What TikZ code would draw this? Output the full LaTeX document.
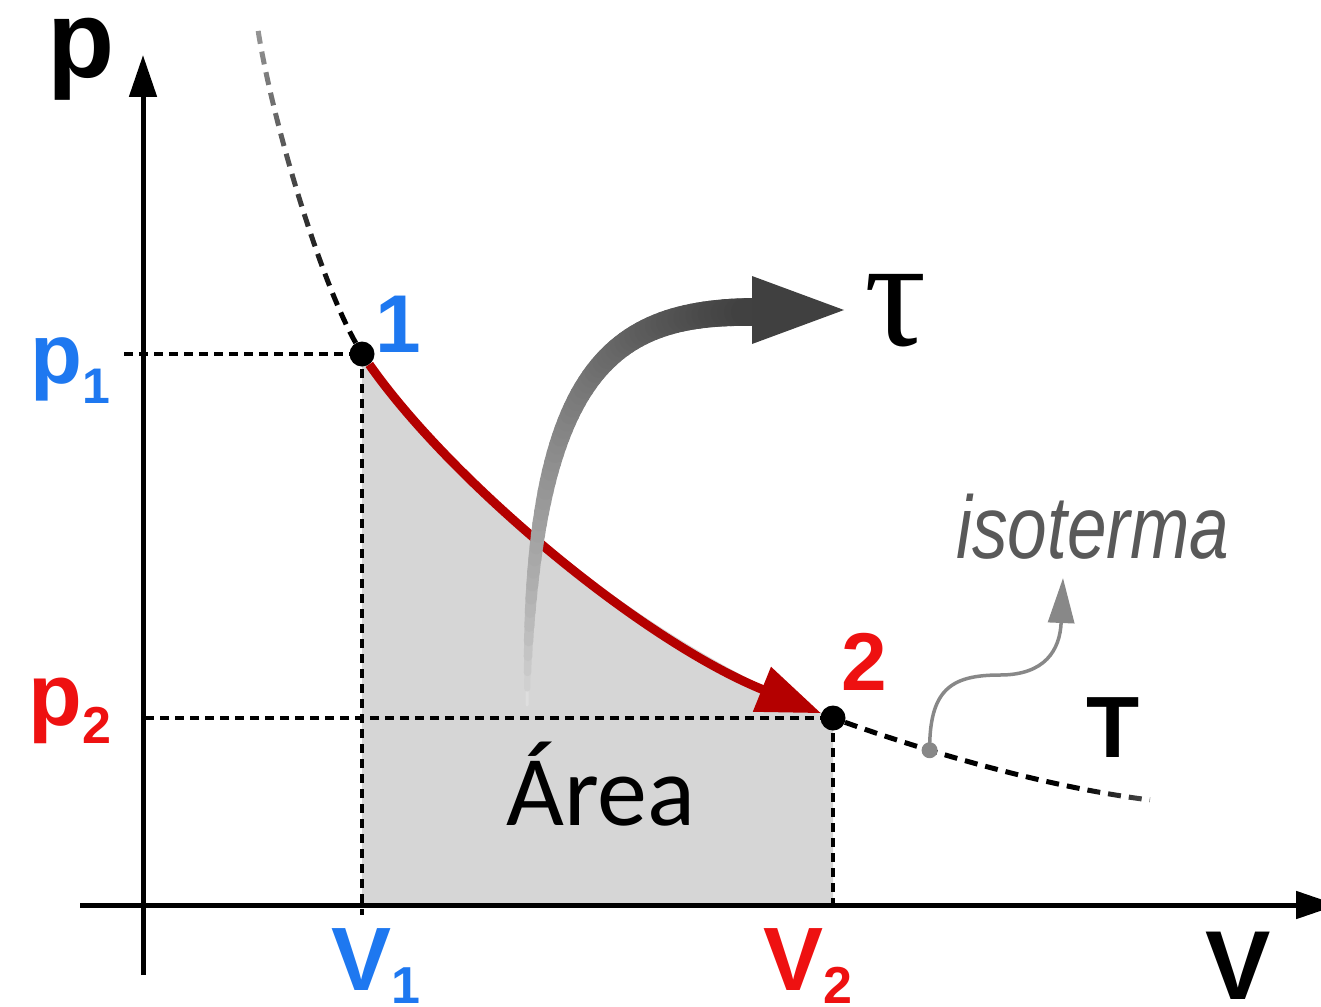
\documentclass[tikz,border=0pt]{standalone}
\usepackage{fontspec}
\setmainfont{Liberation Sans}
\newfontfamily\serifgr{Liberation Serif}
\newfontfamily\areafont{Carlito}
\usetikzlibrary{arrows.meta,fadings}
\definecolor{cblue}{HTML}{1E78F0}
\definecolor{cred}{HTML}{EE1111}
\definecolor{cdred}{HTML}{B40000}
\definecolor{cfill}{HTML}{D6D6D6}
\definecolor{cgrey}{HTML}{888888}
\definecolor{ctext}{HTML}{595959}
\newcommand\fs[1]{\fontsize{#1}{#1}\selectfont}
\pgfdeclareverticalshading{fadeNsh}{100bp}{color(0bp)=(pgftransparent!0); color(30bp)=(pgftransparent!0); color(100bp)=(pgftransparent!92)}
\pgfdeclarefading{fadeN}{\pgfuseshading{fadeNsh}}
\pgfdeclarehorizontalshading{fadeEsh}{100bp}{color(0bp)=(pgftransparent!0); color(62bp)=(pgftransparent!0); color(100bp)=(pgftransparent!88)}
\pgfdeclarefading{fadeE}{\pgfuseshading{fadeEsh}}
\begin{document}
\begin{tikzpicture}[x=1pt,y=-1pt,
  dot/.style={circle,fill=black,inner sep=0pt,minimum size=25pt},
  axisline/.style={line width=5pt,-{Triangle[length=42pt,width=27pt]}},
  guide/.style={line width=3.2pt,dash pattern=on 9pt off 6pt},
  iso/.style={line width=5pt,dash pattern=on 13pt off 8pt},
  lab/.style={inner sep=0pt,anchor=base,font=\bfseries},
  declare function={bx(\t)=(1-\t)^3*527+3*(1-\t)^2*\t*530+3*(1-\t)*\t^2*610+\t^3*752;
                    by(\t)=(1-\t)^3*705+3*(1-\t)^2*\t*370+3*(1-\t)*\t^2*312+\t^3*312;}]
\useasboundingbox (0,0) rectangle (1321,1006);

% coordinates
\coordinate (P1) at (362,354);
\coordinate (P2) at (833,718);
\coordinate (F1) at (362,905);
\coordinate (F2) at (833,905);
\coordinate (g1) at (124,354);
\coordinate (g2) at (145,718);
\coordinate (b1) at (362,915);
\coordinate (xs) at (80,905);
\coordinate (xe) at (1338,905);
\coordinate (ys) at (143,975);
\coordinate (ye) at (143,55);
\coordinate (isotop) at (258,30);
\coordinate (isoend) at (1150,800);

% area
\fill[cfill] (F1) -- (P1) .. controls (450,480) and (640,640) .. (P2) -- (F2) -- cycle;

% guides
\draw[guide] (g1) -- (P1);
\draw[guide] (g2) -- (P2);
\draw[guide] (P1) -- (b1);
\draw[guide] (P2) -- (F2);

% axes
\draw[axisline] (xs) -- (xe);
\draw[axisline] (ys) -- (ye);

% points
\node[dot] (pt1) at (P1) {};
\node[dot] (pt2) at (P2) {};

% isotherm
\draw[iso,path fading=fadeN] (pt1) .. controls (320,280) and (272,120) .. (isotop);
\draw[iso,path fading=fadeE] (pt2) .. controls (900,742) and (1030,785) .. coordinate[pos=0.36] (isod) (isoend);

% process curve
\draw[cdred,line width=9pt,-{Triangle[length=64pt,width=46pt]}] (pt1) .. controls (450,480) and (640,640) .. (pt2);

% work arrow
\foreach \i in {0,...,59}{
  \pgfmathsetmacro\ta{\i/60}
  \pgfmathsetmacro\tb{(\i+1)/60}
  \pgfmathsetmacro\w{3+25*sqrt(\ta)}
  \pgfmathsetmacro\c{13+62*(\ta)^0.6}
  \draw[line width=\w pt,black!\c,line cap=round] plot[domain=\ta:\tb,samples=3,variable=\t] ({bx(\t)},{by(\t)});
}
\coordinate (ah1) at (752,276);
\coordinate (ah2) at (844,310);
\coordinate (ah3) at (752,344);
\fill[black!75] (ah1) -- (ah2) -- (ah3) -- cycle;

% isoterma pointer
\node[circle,fill=cgrey,inner sep=0pt,minimum size=16pt] (isodot) at (isod) {};
\coordinate (wmid) at (1000,675);
\coordinate (wtip) at (1063,578);
\draw[cgrey,line width=3.5pt,-{Triangle[length=45pt,width=26pt]}] (isodot.center) .. controls +(0,-60) and (950,675) .. (wmid) .. controls (1045,675) and (1060,650) .. (wtip);

% labels
\node[lab] (plab) at (81,78) {\fs{110}p};
\node[lab,text=cblue] (p1lab) at (70,383) {\fs{85}p\raisebox{-20pt}{\fs{50}1}};
\node[lab,text=cred] (p2lab) at (70,725) {\fs{88}p\raisebox{-18pt}{\fs{52}2}};
\node[lab,text=cblue] (v1lab) at (376,990) {\fs{90}V\raisebox{-13pt}{\fs{52}1}};
\node[lab,text=cred] (v2lab) at (808,990) {\fs{90}V\raisebox{-13pt}{\fs{52}2}};
\node[lab] (vlab) at (1238,999) {\fs{98}V};
\node[lab,text=cblue] (n1) at (398,352) {\fs{82}1};
\node[lab,text=cred] (n2) at (864,690) {\fs{82}2};
\node[lab] (tlab) at (1113,757) {\fs{87}T};
\node[inner sep=0pt,anchor=base] (tau) at (896,345) {\serifgr\fs{155}τ};
\node[inner sep=0pt,anchor=base] (area) at (601,825) {\areafont\fs{100}Área};
\node[inner sep=0pt,anchor=base,xscale=0.8,text=ctext] (iso) at (1093,558) {\itshape\fs{89}isoterma};
\end{tikzpicture}
\end{document}
